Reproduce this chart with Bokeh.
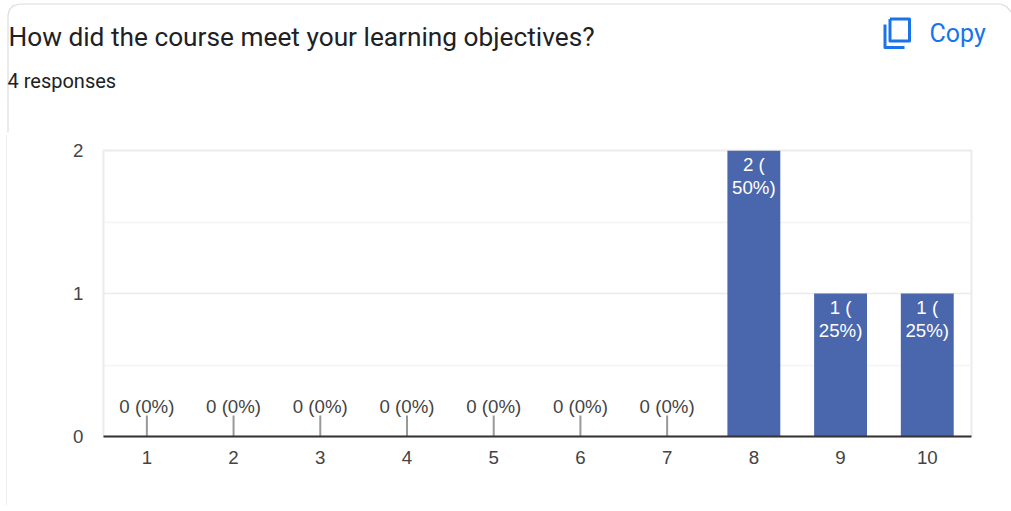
from bokeh.plotting import figure
from bokeh.embed import file_html
from bokeh.layouts import column
from bokeh.resources import INLINE
from bokeh.models import ColumnDataSource, FixedTicker, Range1d
from bokeh.core.properties import value

categories = [1, 2, 3, 4, 5, 6, 7, 8, 9, 10]
counts = [0, 0, 0, 0, 0, 0, 0, 2, 1, 1]
zero_labels = ["0 (0%)"] * 7
bar_labels = ["2 (\n50%)", "1 (\n25%)", "1 (\n25%)"]
y_ticks = [0, 1, 2]
title_text = "How did the course meet your learning objectives?"
subtitle_text = "4 responses"
copy_text = "Copy"

# header: its own figure whose data units are page pixels
head = figure(width=1011, height=135, output_backend="svg", toolbar_location=None,
              x_range=Range1d(0, 1011), y_range=Range1d(135, 0),
              min_border_left=0, min_border_right=0, min_border_top=0, min_border_bottom=0,
              outline_line_color=None, border_fill_color="white", background_fill_color="white")
head.margin = (0, 0, 0, 0)
head.frame_align = False
head.xaxis.visible = False
head.yaxis.visible = False
head.xgrid.visible = False
head.ygrid.visible = False

head.line([7.5, 7.5, 9, 13, 20, 1000, 1006, 1011], [132, 15, 9, 5, 3.5, 3.5, 6, 12], line_color="#dadce0", line_width=1.2)
head.line([889.5, 909, 909, 889.5, 889.5], [18.5, 18.5, 40.5, 40.5, 18.5], line_color="#1a73e8", line_width=3, line_join="round")
head.line([884.5, 884.5, 904], [24, 47, 47], line_color="#1a73e8", line_width=3, line_join="round")
head.text([8], [36], text=[title_text], text_font=value("Roboto"), text_font_size="26.25px", text_color="#202124",
           text_baseline="alphabetic")
head.text([7], [80], text=[subtitle_text], text_font=value("Roboto"), text_font_size="20px", text_color="#202124",
          text_baseline="alphabetic")
head.text([929], [33], text=[copy_text], text_font=value("Roboto"), text_font_size="25px", text_color="#1a73e8",
          text_baseline="alphabetic")

# chart
p = figure(width=996, height=370, output_backend="svg", toolbar_location=None,
           x_range=Range1d(0.5, 10.51), y_range=Range1d(0, 2),
           min_border_left=96, min_border_right=32, min_border_top=15, min_border_bottom=69,
           background_fill_color="white", border_fill_color="white")
p.margin = (0, 0, 0, 7)
p.frame_align = False
p.styles = {"box-shadow": "-1px 0 0 #efefef"}
p.outline_line_color = "#ebebeb"
p.outline_line_width = 2

p.xgrid.visible = False
p.ygrid.ticker = FixedTicker(ticks=y_ticks, minor_ticks=[0.5, 1.5])
p.ygrid.grid_line_color = "#ebebeb"
p.ygrid.grid_line_width = 1.5
p.ygrid.minor_grid_line_color = "#f4f4f4"
p.ygrid.minor_grid_line_width = 1.5

p.xaxis.ticker = FixedTicker(ticks=categories)
p.yaxis.ticker = FixedTicker(ticks=y_ticks)
for ax in (p.xaxis[0], p.yaxis[0]):
    ax.major_tick_line_color = None
    ax.minor_tick_line_color = None
    ax.major_label_text_font = "Liberation Sans"
    ax.major_label_text_font_size = "18.7px"
    ax.major_label_text_color = "#444444"
p.xaxis.axis_line_color = "#333333"
p.xaxis.axis_line_width = 2
p.xaxis.major_label_standoff = 8
p.yaxis.axis_line_color = None
p.yaxis.major_label_standoff = 14

p.vbar(x=categories, top=counts, width=0.61, bottom=0, fill_color="#4a66ac", line_color=None)

zero_x = [c for c, v in zip(categories, counts) if v == 0]
nz = [(c, v) for c, v in zip(categories, counts) if v > 0]
p.segment(x0=zero_x, y0=[0] * len(zero_x), x1=zero_x, y1=[0.147] * len(zero_x), line_color="#999999", line_width=2)
p.text(x=zero_x, y=[0] * len(zero_x), text=zero_labels, x_offset=0, y_offset=-20,
       text_align="center", text_baseline="bottom", text_font=value("Liberation Sans"),
       text_font_size="18.7px", text_color="#444444")
src = ColumnDataSource(dict(x=[c for c, _ in nz], y=[v for _, v in nz], t=bar_labels))
p.text(x="x", y="y", text="t", source=src, x_offset=0, y_offset=3, text_align="center", text_baseline="top",
       text_font=value("Liberation Sans"), text_font_size="18.7px", text_color="#ffffff", text_line_height=1.1)

layout = column(head, p, spacing=0)
layout.margin = (0, 0, 0, 0)
open("out.html", "w").write(file_html(layout, INLINE))
